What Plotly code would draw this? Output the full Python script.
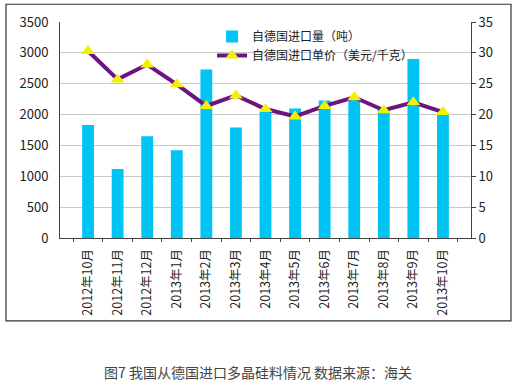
import plotly.graph_objects as go

months = ["2012年10月", "2012年11月", "2012年12月", "2013年1月", "2013年2月", "2013年3月",
          "2013年4月", "2013年5月", "2013年6月", "2013年7月", "2013年8月", "2013年9月", "2013年10月"]
volume = [1830, 1120, 1650, 1420, 2730, 1790, 2050, 2100, 2230, 2240, 2090, 2900, 2010]
price = [30.3, 25.7, 28.1, 24.9, 21.4, 23.1, 20.9, 19.7, 21.4, 22.8, 20.7, 22.0, 20.4]

font = "Noto Sans CJK SC, sans-serif"
W, H = 513, 385
L, R, T, B = 60, 42, 19, 147
pw, ph = W - L - R, H - T - B

fig = go.Figure()
fig.add_trace(go.Bar(x=months, y=volume, name="自德国进口量（吨）",
                     marker=dict(color="#00C4F4", line=dict(width=0)), yaxis="y"))
fig.add_trace(go.Scatter(x=months, y=price, name="自德国进口单价（美元/千克）",
                         mode="lines+markers", yaxis="y2",
                         line=dict(color="#6B1580", width=4),
                         marker=dict(symbol="triangle-up", size=12, color="#F2F200",
                                     line=dict(width=0))))

fig.update_layout(
    width=W, height=H,
    margin=dict(l=L, r=R, t=T, b=B),
    paper_bgcolor="white", plot_bgcolor="white",
    font=dict(family=font, size=12, color="#222222"),
    bargap=0.6,
    showlegend=True,
    legend=dict(x=0.37, y=1.0, xanchor="left", yanchor="top",
                bgcolor="rgba(0,0,0,0)", font=dict(size=12, color="#222"),
                tracegroupgap=0, itemwidth=30),
    xaxis=dict(type="category", tickangle=-90, showline=True, linecolor="#444",
               linewidth=1, ticks="outside", tickson="boundaries", ticklen=3,
               tickcolor="#444", showgrid=False, tickfont=dict(size=12.5),
               ticklabelstandoff=5),
    yaxis=dict(range=[0, 3500], dtick=500, showline=True, linecolor="#444",
               linewidth=1, gridcolor="#C8C8C8", gridwidth=1, ticks="",
               tickfont=dict(size=13), zeroline=False, ticklabelstandoff=8),
    yaxis2=dict(range=[0, 35], dtick=5, overlaying="y", side="right",
                showline=True, linecolor="#444", linewidth=1, ticks="outside",
                ticklen=4, tickcolor="#444", showgrid=False, zeroline=False,
                tickfont=dict(size=13)),
    shapes=[dict(type="rect", xref="paper", yref="paper",
                 x0=(6 - L) / pw, x1=(511 - L) / pw,
                 y0=(H - B - 322) / ph, y1=(H - B - 1) / ph,
                 line=dict(color="#333", width=1.2), fillcolor="rgba(0,0,0,0)",
                 layer="below")],
    annotations=[dict(text="图7 我国从德国进口多晶硅料情况 数据来源：海关",
                      xref="paper", yref="paper", x=(258 - L) / pw, y=(H - B - 374) / ph,
                      xanchor="center", yanchor="middle", showarrow=False,
                      font=dict(size=14, color="#444"))],
)

fig.write_html("out.html", config={"displayModeBar": False},
               post_script="document.body.style.margin='0';document.body.style.overflow='hidden';")
